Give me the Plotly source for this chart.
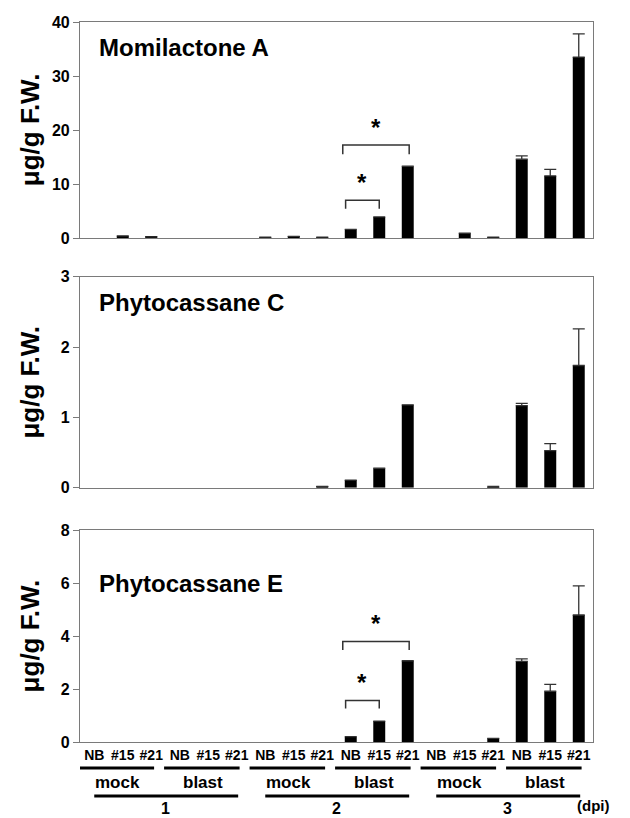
import plotly.graph_objects as go

# ---------------- data ----------------
dpi = [1]*6 + [2]*6 + [3]*6
treatment = (["mock"]*3 + ["blast"]*3) * 3
lines = ["NB", "#15", "#21"] * 6
x_idx = list(range(18))

momilactone_a = [0, 0.4, 0.2, 0, 0, 0, 0.15, 0.3, 0.15, 1.6, 3.9, 13.3, 0, 0.9, 0.15, 14.6, 11.5, 33.5]
momilactone_a_err = [0, 0, 0, 0, 0, 0, 0, 0, 0, 0, 0, 0, 0, 0, 0, 0.6, 1.2, 4.3]

phytocassane_c = [0, 0, 0, 0, 0, 0, 0, 0, 0.02, 0.11, 0.28, 1.18, 0, 0, 0.01, 1.17, 0.53, 1.74]
phytocassane_c_err = [0, 0, 0, 0, 0, 0, 0, 0, 0, 0, 0, 0, 0, 0, 0.01, 0.03, 0.1, 0.52]

phytocassane_e = [0, 0, 0, 0, 0, 0, 0, 0, 0, 0.2, 0.79, 3.07, 0, 0, 0.14, 3.05, 1.92, 4.8]
phytocassane_e_err = [0, 0, 0, 0, 0, 0, 0, 0, 0, 0, 0, 0, 0, 0, 0, 0.09, 0.26, 1.1]

panel_titles = ["Momilactone A", "Phytocassane C", "Phytocassane E"]
y_ranges = [[0, 40], [0, 3], [0, 8]]
y_ticks = [[0, 10, 20, 30, 40], [0, 1, 2, 3], [0, 2, 4, 6, 8]]
y_title = "μg/g F.W."
group_labels = ["mock", "blast"] * 3
dpi_labels = ["1", "2", "3"]

# significance brackets: (panel, x_start, x_end, y_top, y_leg)
brackets = [
    (1, 8.72, 11.05, 17.2, 15.5),
    (1, 8.82, 10.0, 7.0, 5.4),
    (3, 8.72, 11.05, 3.8, 3.48),
    (3, 8.82, 10.0, 1.57, 1.27),
]

# ---------------- figure ----------------
FONT = "Liberation Sans, Arial, sans-serif"
AXC = "#7a7a7a"
fig = go.Figure()

series = [(momilactone_a, momilactone_a_err), (phytocassane_c, phytocassane_c_err),
          (phytocassane_e, phytocassane_e_err)]
for i, (vals, errs) in enumerate(series):
    suf = "" if i == 0 else str(i + 1)
    vals_shown = [v if v > 0 else None for v in vals]
    err_shown = [e if e > 0 else None for e in errs]
    fig.add_trace(go.Bar(
        x=x_idx, y=vals_shown, xaxis="x" + suf, yaxis="y" + suf,
        marker=dict(color="black", line=dict(width=0)),
        error_y=dict(type="data", array=err_shown, arrayminus=[0]*18, symmetric=False,
                     color="#333333", thickness=1.3, width=6, visible=True),
        showlegend=False, hoverinfo="skip",
    ))

domains = [[0.700, 1.0], [0.353, 0.646], [0.0, 0.294]]
layout = dict(
    width=630, height=818,
    margin=dict(l=80, r=37, t=22, b=76),
    paper_bgcolor="white", plot_bgcolor="white",
    bargap=0.58,
    font=dict(family=FONT, color="black"),
)
for i in range(3):
    suf = "" if i == 0 else str(i + 1)
    layout["xaxis" + suf] = dict(
        domain=[0, 1], anchor="y" + suf, range=[-0.5, 17.5],
        showline=True, linecolor=AXC, linewidth=1.2, mirror=True,
        showgrid=False, zeroline=False, ticks="",
        tickmode="array", tickvals=x_idx, ticktext=lines,
        showticklabels=(i == 2),
        tickfont=dict(family=FONT, size=14, weight="bold", color="black"),
        **({} if i == 0 else {"matches": "x"}),
    )
    layout["yaxis" + suf] = dict(
        domain=domains[i], anchor="x" + suf, range=y_ranges[i],
        tickmode="array", tickvals=y_ticks[i],
        showline=True, linecolor=AXC, linewidth=1.2, mirror=True,
        ticks="outside", ticklen=6, tickcolor=AXC, tickwidth=1.2,
        showgrid=False, zeroline=False,
        tickfont=dict(family=FONT, size=16, weight="bold", color="black"),
    )
fig.update_layout(**layout)

annotations = []
shapes = []
for i in range(3):
    suf = "" if i == 0 else str(i + 1)
    ty = [0.884, 0.88, 0.75][i]
    annotations.append(dict(
        text=panel_titles[i], xref="x" + suf + " domain", yref="y" + suf + " domain",
        x=0.033, y=ty, xanchor="left", yanchor="middle", showarrow=False,
        font=dict(family=FONT, size=24, weight="bold", color="black"),
    ))
    annotations.append(dict(
        text=y_title, xref="paper", yref="y" + suf + " domain",
        x=-0.097, y=0.5, xanchor="center", yanchor="middle", textangle=-90,
        showarrow=False,
        font=dict(family=FONT, size=26, weight="bold", color="black"),
    ))

for (p, x0, x1, ytop, yleg) in brackets:
    suf = "" if p == 1 else str(p)
    shapes.append(dict(
        type="path", xref="x" + suf, yref="y" + suf,
        path=f"M {x0},{yleg} L {x0},{ytop} L {x1},{ytop} L {x1},{yleg}",
        line=dict(color="#333333", width=1.5),
    ))
    annotations.append(dict(
        text="*", xref="x" + suf, yref="y" + suf, x=(x0 + x1) / 2, y=ytop,
        xanchor="center", yanchor="bottom", yshift=2, showarrow=False,
        font=dict(family=FONT, size=24, weight="bold", color="black"),
    ))

# group underlines and labels beneath the bottom panel
for g, lab in enumerate(group_labels):
    start = 3 * g
    shapes.append(dict(type="line", xref="x3", yref="paper",
                       x0=start - 0.55, x1=start + 2.1, y0=-0.0361, y1=-0.0361,
                       line=dict(color="black", width=3)))
    annotations.append(dict(text=lab, xref="x3", yref="paper", x=start + 0.8, y=-0.0556,
                            xanchor="center", yanchor="middle", showarrow=False,
                            font=dict(family=FONT, size=17, weight="bold", color="black")))
for d, lab in enumerate(dpi_labels):
    start = 6 * d
    shapes.append(dict(type="line", xref="x3", yref="paper",
                       x0=start - 0.0, x1=start + 5.05, y0=-0.075, y1=-0.075,
                       line=dict(color="black", width=3)))
    annotations.append(dict(text=lab, xref="x3", yref="paper", x=start + 2.5, y=-0.0925,
                            xanchor="center", yanchor="middle", showarrow=False,
                            font=dict(family=FONT, size=16, weight="bold", color="black")))
annotations.append(dict(text="(dpi)", xref="paper", yref="paper", x=1.0, y=-0.088,
                        xanchor="center", yanchor="middle", showarrow=False,
                        font=dict(family=FONT, size=15, weight="bold", color="black")))

fig.update_layout(annotations=annotations, shapes=shapes)
fig.write_html("out.html", config={"displayModeBar": False},
               post_script="document.body.style.margin='0';document.body.style.overflow='hidden';")
